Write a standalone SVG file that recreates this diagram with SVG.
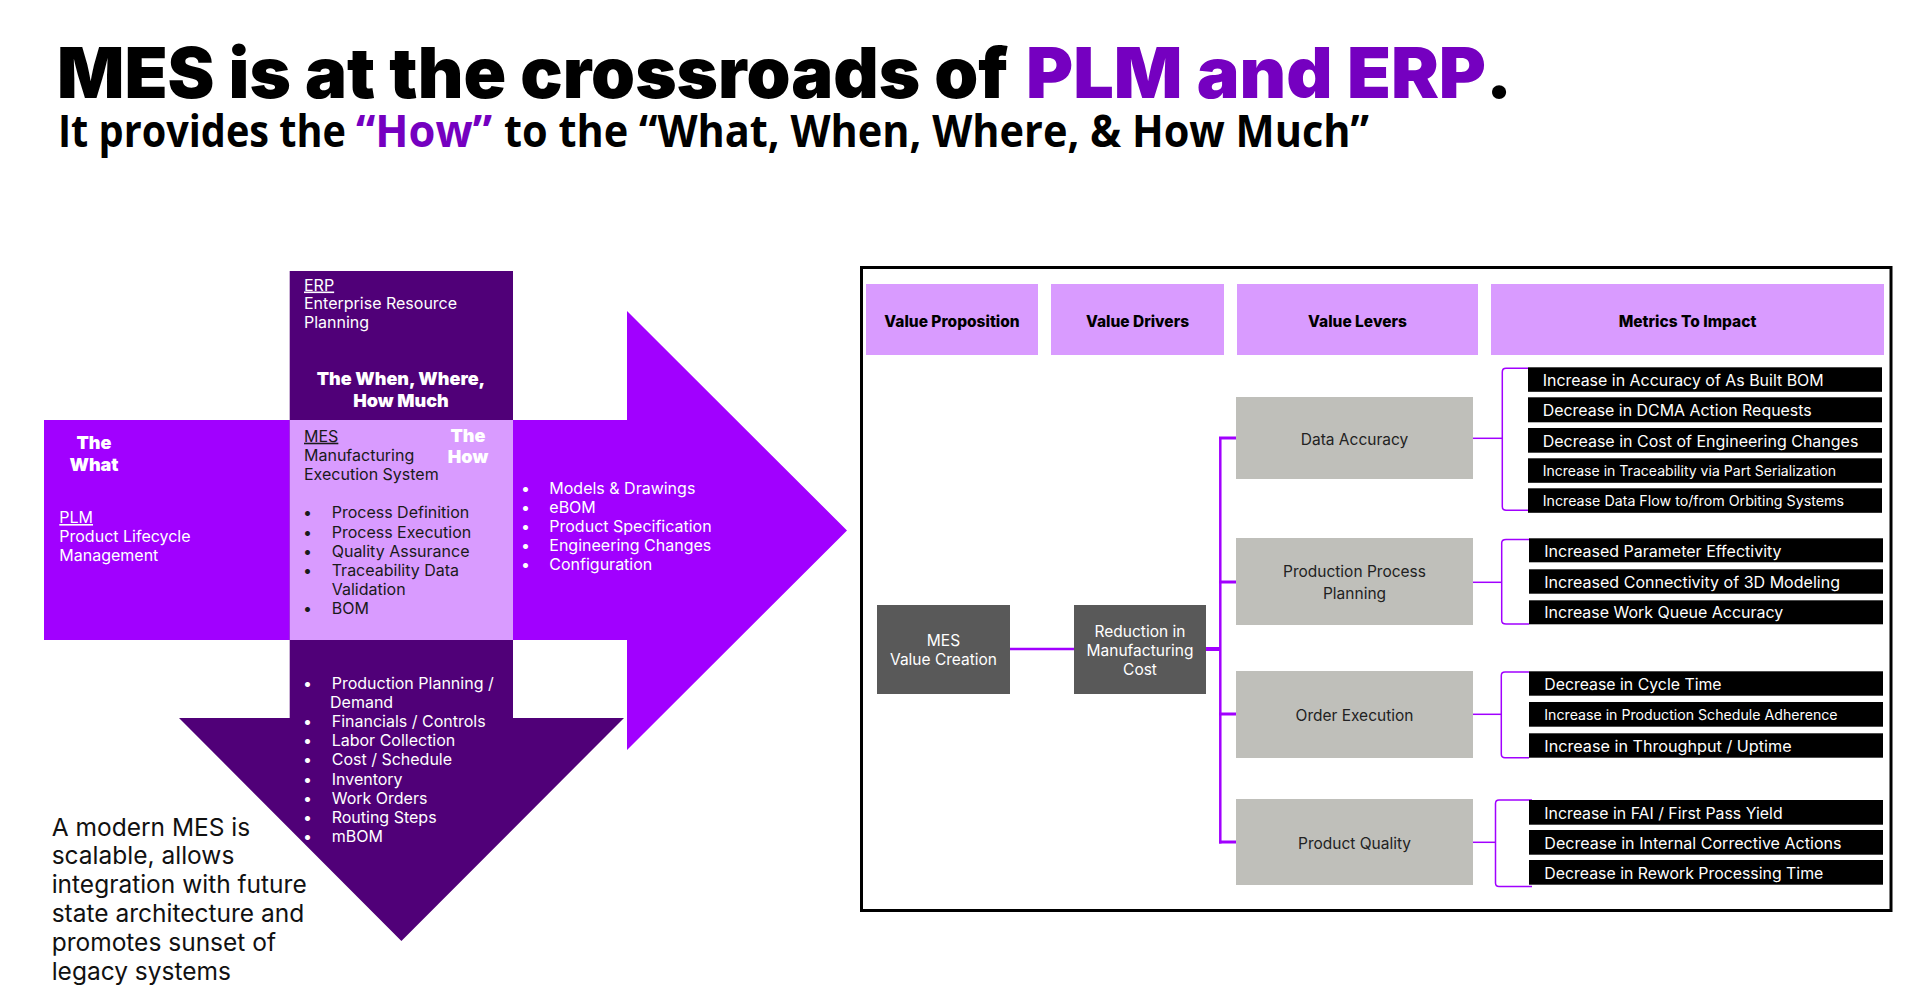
<svg xmlns="http://www.w3.org/2000/svg" width="1913" height="1003" viewBox="0 0 1913 1003">
  <style>
    text { font-family: Inter, "Liberation Sans", sans-serif; }
    .heavy { font-weight: 900; }
    .sub { font-family: "Open Sans", "Liberation Sans", sans-serif; font-weight: 700; font-size: 44px; }
    .purple { fill: #7500C0; }
    .w { fill: #fff; }
    .dk { fill: #1a1a1a; }
    .sm { font-size: 16px; }
    .big { font-size: 18px; font-weight: 900; text-anchor: middle; }
    .ul { text-decoration: underline; }
    .hdr { fill: #D99BFF; }
    .hdrtxt { font-size: 15.5px; font-weight: 800; fill: #000; text-anchor: middle; }
    .dbox { fill: #595959; }
    .dtxt { font-size: 15.5px; fill: #fff; text-anchor: middle; }
    .lever { fill: #BFBFBA; }
    .ltxt { font-size: 15.5px; fill: #222; text-anchor: middle; }
    .mbox { fill: #000; }
    .mtxt { font-size: 15.5px; fill: #fff; }
    .mtxt.s { font-size: 14px; }
    .conn { stroke: #A100FF; fill: none; }
  </style>

  <!-- Heading -->
  <g id="heading">
    <text class="heavy" x="57" y="98" font-size="70" textLength="951" lengthAdjust="spacingAndGlyphs">MES is at the crossroads of</text>
    <text class="heavy purple" x="1026" y="98" font-size="70" textLength="460" lengthAdjust="spacingAndGlyphs">PLM and ERP</text>
    <text class="heavy" x="1486" y="98" font-size="70">.</text>
    <text class="sub" x="58" y="146.5" textLength="288" lengthAdjust="spacingAndGlyphs">It provides the</text>
    <text class="sub purple" x="356" y="146.5" textLength="136" lengthAdjust="spacingAndGlyphs">“How”</text>
    <text class="sub" x="504" y="146.5" textLength="865" lengthAdjust="spacingAndGlyphs">to the “What, When, Where, &amp; How Much”</text>
  </g>

  <!-- PLM: horizontal arrow pointing right -->
  <g id="plm">
    <polygon points="44,420 627,420 627,311 847,530.5 627,750 627,640 44,640" fill="#A100FF"/>
    <text class="big w" x="94" y="449">The</text>
    <text class="big w" x="94" y="470.5">What</text>
    <text class="sm w" x="59.3" y="523"><tspan class="ul">PLM</tspan></text>
    <text class="sm w" x="59.3" y="542">Product Lifecycle</text>
    <text class="sm w" x="59.3" y="561">Management</text>
    <g class="sm w">
      <text x="521" y="494">•</text><text x="549.3" y="494">Models &amp; Drawings</text>
      <text x="521" y="513.3">•</text><text x="549.3" y="513.3">eBOM</text>
      <text x="521" y="532.3">•</text><text x="549.3" y="532.3">Product Specification</text>
      <text x="521" y="551.3">•</text><text x="549.3" y="551.3">Engineering Changes</text>
      <text x="521" y="570.3">•</text><text x="549.3" y="570.3">Configuration</text>
    </g>
  </g>

  <!-- ERP: vertical arrow pointing down -->
  <g id="erp">
    <polygon points="289.7,271 513,271 513,718 624,718 401.4,941 179,718 289.7,718" fill="#500078"/>
    <text class="sm w" x="304" y="290.5"><tspan class="ul">ERP</tspan></text>
    <text class="sm w" x="304" y="309">Enterprise Resource</text>
    <text class="sm w" x="304" y="328">Planning</text>
    <text class="big w" x="401" y="385">The When, Where,</text>
    <text class="big w" x="401" y="406.5">How Much</text>
    <g class="sm w">
      <text x="303" y="689.3">•</text><text x="331.7" y="689.3">Production Planning /</text>
      <text x="330" y="708.3">Demand</text>
      <text x="303" y="727.3">•</text><text x="331.7" y="727.3">Financials / Controls</text>
      <text x="303" y="746">•</text><text x="331.7" y="746">Labor Collection</text>
      <text x="303" y="765">•</text><text x="331.7" y="765">Cost / Schedule</text>
      <text x="303" y="785.3">•</text><text x="331.7" y="785.3">Inventory</text>
      <text x="303" y="804">•</text><text x="331.7" y="804">Work Orders</text>
      <text x="303" y="823.3">•</text><text x="331.7" y="823.3">Routing Steps</text>
      <text x="303" y="842">•</text><text x="331.7" y="842">mBOM</text>
    </g>
  </g>

  <!-- MES at the crossing -->
  <g id="mes">
    <rect x="289.7" y="420" width="223.3" height="220" fill="#D99BFF"/>
    <text class="sm dk" x="304" y="441.7"><tspan class="ul">MES</tspan></text>
    <text class="sm dk" x="304" y="461">Manufacturing</text>
    <text class="sm dk" x="304" y="480">Execution System</text>
    <text class="big w" x="468" y="441.7">The</text>
    <text class="big w" x="468" y="463">How</text>
    <g class="sm dk">
      <text x="303" y="518.3">•</text><text x="331.7" y="518.3">Process Definition</text>
      <text x="303" y="538">•</text><text x="331.7" y="538">Process Execution</text>
      <text x="303" y="557">•</text><text x="331.7" y="557">Quality Assurance</text>
      <text x="303" y="576">•</text><text x="331.7" y="576">Traceability Data</text>
      <text x="331.7" y="595">Validation</text>
      <text x="303" y="614">•</text><text x="331.7" y="614">BOM</text>
    </g>
  </g>

  <g id="note" font-size="24.5" fill="#111">
    <text x="51.7" y="836">A modern MES is</text>
    <text x="51.7" y="864">scalable, allows</text>
    <text x="51.7" y="893.3">integration with future</text>
    <text x="51.7" y="922.3">state architecture and</text>
    <text x="51.7" y="951">promotes sunset of</text>
    <text x="51.7" y="980">legacy systems</text>
  </g>

  <!-- Value tree panel -->
  <rect id="panel" x="861.5" y="267.5" width="1029.5" height="643" fill="none" stroke="#000" stroke-width="3"/>

  <g id="header-value-proposition"><rect class="hdr" x="866" y="284" width="172" height="71"/><text class="hdrtxt" x="952" y="326.5">Value Proposition</text></g>
  <g id="header-value-drivers"><rect class="hdr" x="1051" y="284" width="173" height="71"/><text class="hdrtxt" x="1137.5" y="326.5">Value Drivers</text></g>
  <g id="header-value-levers"><rect class="hdr" x="1237" y="284" width="241" height="71"/><text class="hdrtxt" x="1357.5" y="326.5">Value Levers</text></g>
  <g id="header-metrics"><rect class="hdr" x="1491" y="284" width="393" height="71"/><text class="hdrtxt" x="1687.5" y="326.5">Metrics To Impact</text></g>

  <!-- Connectors -->
  <g id="connectors" class="conn">
    <line x1="1010" y1="649" x2="1074" y2="649" stroke-width="2.5"/>
    <line x1="1206" y1="649" x2="1221" y2="649" stroke-width="4"/>
    <line x1="1220.3" y1="437" x2="1220.3" y2="843.5" stroke-width="2.5"/>
    <line x1="1219" y1="438" x2="1236" y2="438" stroke-width="3"/>
    <line x1="1219" y1="582" x2="1236" y2="582" stroke-width="3"/>
    <line x1="1219" y1="714" x2="1236" y2="714" stroke-width="3"/>
    <line x1="1219" y1="842" x2="1236" y2="842" stroke-width="3"/>
    <line x1="1473" y1="438.3" x2="1502" y2="438.3" stroke-width="1.5"/>
    <line x1="1473" y1="582.3" x2="1502" y2="582.3" stroke-width="1.5"/>
    <line x1="1473" y1="714.3" x2="1501.5" y2="714.3" stroke-width="1.5"/>
    <line x1="1473" y1="842.3" x2="1495.5" y2="842.3" stroke-width="1.5"/>
    <path d="M1528,368.3 L1506,368.3 Q1502.3,368.3 1502.3,372 L1502.3,506.5 Q1502.3,510.2 1506,510.2 L1528,510.2" stroke-width="1.5"/>
    <path d="M1530,539.5 L1506,539.5 Q1501.7,539.5 1501.7,543 L1501.7,620.5 Q1501.7,624 1506,624 L1529,624" stroke-width="1.5"/>
    <path d="M1529,672 L1505,672 Q1501.3,672 1501.3,675.5 L1501.3,754 Q1501.3,757.7 1505,757.7 L1529,757.7" stroke-width="1.5"/>
    <path d="M1532,800 L1499,800 Q1495.5,800 1495.5,803.5 L1495.5,883 Q1495.5,886.5 1499,886.5 L1532,886.5" stroke-width="1.5"/>
  </g>

  <g id="mes-value-creation"><rect class="dbox" x="877" y="605" width="133" height="89"/><text class="dtxt" x="943.5" y="646">MES</text><text class="dtxt" x="943.5" y="665.3">Value Creation</text></g>
  <g id="reduction-cost"><rect class="dbox" x="1074" y="605" width="132" height="89"/><text class="dtxt" x="1140" y="636.5">Reduction in</text><text class="dtxt" x="1140" y="655.7">Manufacturing</text><text class="dtxt" x="1140" y="674.5">Cost</text></g>

  <g id="lever-data-accuracy"><rect class="lever" x="1236" y="397" width="237" height="82"/><text class="ltxt" x="1354.5" y="445">Data Accuracy</text></g>
  <g id="lever-production-process-planning"><rect class="lever" x="1236" y="538" width="237" height="87"/><text class="ltxt" x="1354.5" y="577.3">Production Process</text><text class="ltxt" x="1354.5" y="598.5">Planning</text></g>
  <g id="lever-order-execution"><rect class="lever" x="1236" y="671" width="237" height="87"/><text class="ltxt" x="1354.5" y="721">Order Execution</text></g>
  <g id="lever-product-quality"><rect class="lever" x="1236" y="799" width="237" height="86"/><text class="ltxt" x="1354.5" y="849">Product Quality</text></g>

  <g id="metrics-data-accuracy">
    <rect class="mbox" x="1528" y="367.3" width="354" height="24.5"/><text class="mtxt" x="1542.7" y="385.7" textLength="281" lengthAdjust="spacingAndGlyphs">Increase in Accuracy of As Built BOM</text>
    <rect class="mbox" x="1528" y="397.3" width="354" height="25"/><text class="mtxt" x="1542.7" y="416" textLength="269" lengthAdjust="spacingAndGlyphs">Decrease in DCMA Action Requests</text>
    <rect class="mbox" x="1528" y="428" width="354" height="24.7"/><text class="mtxt" x="1542.7" y="446.7" textLength="315.7" lengthAdjust="spacingAndGlyphs">Decrease in Cost of Engineering Changes</text>
    <rect class="mbox" x="1528" y="458.3" width="354" height="24.5"/><text class="mtxt s" x="1542.7" y="475.7" textLength="293.3" lengthAdjust="spacingAndGlyphs">Increase in Traceability via Part Serialization</text>
    <rect class="mbox" x="1528" y="488.3" width="354" height="24.5"/><text class="mtxt s" x="1542.7" y="505.7" textLength="301.3" lengthAdjust="spacingAndGlyphs">Increase Data Flow to/from Orbiting Systems</text>
  </g>
  <g id="metrics-production-process-planning">
    <rect class="mbox" x="1529" y="538.3" width="354" height="24"/><text class="mtxt" x="1544.3" y="556.7" textLength="237.3" lengthAdjust="spacingAndGlyphs">Increased Parameter Effectivity</text>
    <rect class="mbox" x="1529" y="569.3" width="354" height="24.4"/><text class="mtxt" x="1544.3" y="587.7" textLength="295.7" lengthAdjust="spacingAndGlyphs">Increased Connectivity of 3D Modeling</text>
    <rect class="mbox" x="1529" y="600.3" width="354" height="24"/><text class="mtxt" x="1544.3" y="618.3" textLength="239" lengthAdjust="spacingAndGlyphs">Increase Work Queue Accuracy</text>
  </g>
  <g id="metrics-order-execution">
    <rect class="mbox" x="1529" y="671.3" width="354" height="24.4"/><text class="mtxt" x="1544.3" y="690" textLength="177.3" lengthAdjust="spacingAndGlyphs">Decrease in Cycle Time</text>
    <rect class="mbox" x="1529" y="702" width="354" height="24.7"/><text class="mtxt s" x="1544.3" y="720" textLength="293.3" lengthAdjust="spacingAndGlyphs">Increase in Production Schedule Adherence</text>
    <rect class="mbox" x="1529" y="733.3" width="354" height="24.4"/><text class="mtxt" x="1544.3" y="752.3" textLength="247.3" lengthAdjust="spacingAndGlyphs">Increase in Throughput / Uptime</text>
  </g>
  <g id="metrics-product-quality">
    <rect class="mbox" x="1529" y="800" width="354" height="24.7"/><text class="mtxt" x="1544.3" y="819" textLength="238.3" lengthAdjust="spacingAndGlyphs">Increase in FAI / First Pass Yield</text>
    <rect class="mbox" x="1529" y="830" width="354" height="24.7"/><text class="mtxt" x="1544.3" y="849" textLength="297.3" lengthAdjust="spacingAndGlyphs">Decrease in Internal Corrective Actions</text>
    <rect class="mbox" x="1529" y="860" width="354" height="24.7"/><text class="mtxt" x="1544.3" y="879" textLength="279" lengthAdjust="spacingAndGlyphs">Decrease in Rework Processing Time</text>
  </g>
</svg>
